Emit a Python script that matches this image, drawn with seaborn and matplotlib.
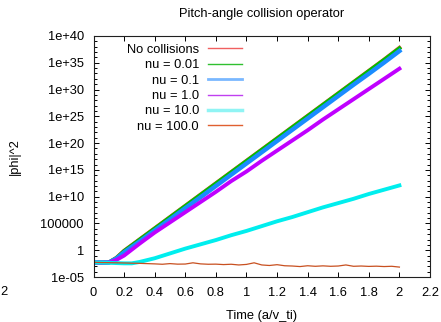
import numpy as np
import pandas as pd
import matplotlib
matplotlib.use("Agg")
import matplotlib.pyplot as plt
from matplotlib.ticker import FixedLocator, FixedFormatter
import seaborn as sns

plt.rcParams['font.family'] = ['Liberation Sans', 'DejaVu Sans']
plt.rcParams['font.size'] = 9.3

# ---- data (log10 of |phi|^2) ----
t_grow = [0.0, 0.05, 0.1, 0.15, 0.2, 0.3, 0.4, 0.5, 0.6, 0.7, 0.8, 0.9, 1.0,
          1.1, 1.2, 1.3, 1.4, 1.5, 1.6, 1.7, 1.8, 1.9, 2.0]
log_nocoll = [-2.25, -2.3, -2.3, -1.4, -0.1, 2.0, 4.1, 6.2, 8.3, 10.4, 12.5, 14.6, 16.7,
              18.8, 20.9, 23.0, 25.1, 27.2, 29.3, 31.4, 33.5, 35.6, 37.8]
log_nu001 = [-2.25, -2.3, -2.3, -1.45, -0.15, 1.95, 4.05, 6.15, 8.25, 10.35, 12.45, 14.55, 16.65,
             18.75, 20.85, 22.95, 25.05, 27.15, 29.25, 31.35, 33.45, 35.55, 37.7]
log_nu01 = [-2.25, -2.3, -2.3, -1.55, -0.4, 1.6, 3.7, 5.75, 7.85, 9.9, 12.0, 14.1, 16.2,
            18.3, 20.4, 22.5, 24.6, 26.7, 28.8, 30.9, 32.95, 35.05, 37.2]
log_nu1 = [-2.25, -2.3, -2.3, -1.8, -1.0, 1.2, 3.3, 5.2, 7.1, 9.0, 10.9, 12.9, 14.7,
           16.7, 18.6, 20.5, 22.4, 24.4, 26.3, 28.2, 30.1, 32.0, 33.9]
t_nu10 = [0.0, 0.05, 0.1, 0.15, 0.2, 0.25, 0.3, 0.4, 0.5, 0.6, 0.7, 0.8, 0.9, 1.0,
          1.1, 1.2, 1.3, 1.4, 1.5, 1.6, 1.7, 1.8, 1.9, 2.0]
log_nu10 = [-2.25, -2.3, -2.35, -2.4, -2.45, -2.45, -2.2, -1.5, -0.6, 0.3, 1.1, 1.9, 2.8, 3.6,
            4.5, 5.4, 6.2, 7.1, 8.0, 8.8, 9.6, 10.5, 11.3, 12.1]
t_nu100 = [0.0, 0.05, 0.1, 0.15, 0.2, 0.25, 0.3, 0.35, 0.4, 0.45, 0.5, 0.55, 0.6, 0.65,
           0.7, 0.75, 0.8, 0.85, 0.9, 0.95, 1.0, 1.05, 1.1, 1.15, 1.2, 1.25, 1.3, 1.35,
           1.4, 1.45, 1.5, 1.55, 1.6, 1.65, 1.7, 1.75, 1.8, 1.85, 1.9, 1.95, 2.0]
log_nu100 = [-2.25, -2.3, -2.32, -2.35, -2.38, -2.42, -2.45, -2.5, -2.55, -2.62, -2.5, -2.6,
             -2.58, -2.35, -2.55, -2.62, -2.6, -2.68, -2.62, -2.75, -2.65, -2.35, -2.75,
             -2.85, -2.7, -2.9, -2.95, -3.05, -2.9, -3.0, -2.92, -3.0, -2.95, -2.75, -3.0,
             -2.95, -3.02, -2.98, -3.05, -3.0, -3.15]

labels = ["No collisions", "nu = 0.01", "nu = 0.1", "nu = 1.0", "nu = 10.0", "nu = 100.0"]
colors = ["#ff4040", "#00c000", "#1a8cff", "#c000ff", "#00eeee", "#c85020"]
widths = [2.8, 2.8, 3.2, 2.8, 2.8, 0.9]
series_t = [t_grow, t_grow, t_grow, t_grow, t_nu10, t_nu100]
series_log = [log_nocoll, log_nu001, log_nu01, log_nu1, log_nu10, log_nu100]

ytick_exp = [-5, 0, 5, 10, 15, 20, 25, 30, 35, 40]
ytick_labels = ["1e-05", "1", "100000", "1e+10", "1e+15", "1e+20", "1e+25", "1e+30", "1e+35", "1e+40"]
xtick_vals = [0, 0.2, 0.4, 0.6, 0.8, 1, 1.2, 1.4, 1.6, 1.8, 2, 2.2]
xtick_labels = ["0", "0.2", "0.4", "0.6", "0.8", "1", "1.2", "1.4", "1.6", "1.8", "2", "2.2"]

fig = plt.figure(figsize=(4.41, 3.22), dpi=100)
ax = fig.add_axes([93.5 / 441, 45 / 322, 336.5 / 441, 241 / 322])

for lab, c, w, tt, lg in zip(labels, colors, widths, series_t, series_log):
    df = pd.DataFrame({"t": tt, "v": 10.0 ** np.array(lg)})
    sns.lineplot(data=df, x="t", y="v", ax=ax, color=c, lw=w, label=lab)

ax.set_yscale('log')
ax.set_xlim(0, 2.2)
ax.set_ylim(1e-5, 1e40)
ax.xaxis.set_major_locator(FixedLocator(xtick_vals))
ax.xaxis.set_major_formatter(FixedFormatter(xtick_labels))
ax.yaxis.set_major_locator(FixedLocator([10.0 ** e for e in ytick_exp]))
ax.yaxis.set_major_formatter(FixedFormatter(ytick_labels))
ax.yaxis.set_minor_locator(FixedLocator([10.0 ** e for e in range(-5, 41)]))
ax.yaxis.set_minor_formatter(FixedFormatter([]))
ax.tick_params(which='both', direction='in', top=True, right=True, colors='black',
               labelsize=9.3, width=0.7)
ax.tick_params(which='major', length=3.5, pad=7)
ax.tick_params(which='minor', length=2)
for s in ax.spines.values():
    s.set_linewidth(0.8)
    s.set_color('#202020')

ax.set_xlabel("Time (a/v_ti)", fontsize=9.3, labelpad=8)
ax.set_ylabel("|phi|^2", fontsize=9.3)
ax.yaxis.set_label_coords(-0.216, 0.5)
ax.set_title("Pitch-angle collision operator", fontsize=9.3, pad=14)

leg = ax.legend(loc='upper left', bbox_to_anchor=(0.072, 1.005), frameon=False,
                markerfirst=False, fontsize=9.3, handlelength=2.6,
                handletextpad=0.7, labelspacing=0.26, borderpad=0.2)
legw = [1.0, 1.0, 2.0, 1.0, 2.5, 1.0]
legc = ["#f06060", "#30c030", "#7ab8ff", "#c040f0", "#90f4f4", "#e06030"]
for ln, w, c in zip(leg.get_lines(), legw, legc):
    ln.set_linewidth(w)
    ln.set_color(c)

fig.text(0 / 441, 1 - 292 / 322, "2", fontsize=9.3, ha='left', va='center')

fig.savefig("out.png", dpi=100)
